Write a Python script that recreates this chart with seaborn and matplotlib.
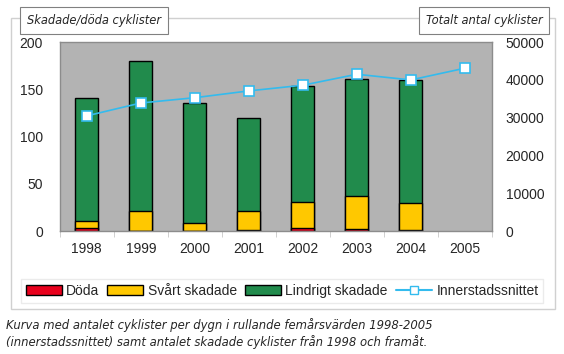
import numpy as np
import pandas as pd
import matplotlib.pyplot as plt
import seaborn as sns
from matplotlib.patches import Patch, Rectangle
from matplotlib.lines import Line2D

years = ['1998', '1999', '2000', '2001', '2002', '2003', '2004', '2005']
bar_years = years[:7]
doda = [3, 0, 0, 1, 3, 2, 1]
svart = [8, 21, 9, 20, 28, 35, 29]
lindrigt = [130, 159, 127, 99, 123, 124, 130]
innerstad = [30500, 33900, 35300, 37100, 38600, 41500, 40000, 43100]

df = pd.DataFrame({'year': bar_years, 'doda': doda, 'svart': svart, 'lindrigt': lindrigt})
df['lvl1'] = df['doda']
df['lvl2'] = df['doda'] + df['svart']
df['lvl3'] = df['lvl2'] + df['lindrigt']
line_df = pd.DataFrame({'year': years, 'antal': innerstad})

c_red = '#E8001C'
c_yel = '#FFC800'
c_grn = '#218B4C'
c_line = '#33BBEE'

sns.set_style('white')
plt.rcParams['font.family'] = ['Liberation Sans', 'DejaVu Sans']

fig = plt.figure(figsize=(5.64, 3.54), dpi=100)
ax = fig.add_axes([0.106, 0.347, 0.766, 0.534])
ax.set_facecolor('#B3B3B3')

for col, c in [('lvl3', c_grn), ('lvl2', c_yel), ('lvl1', c_red)]:
    sns.barplot(data=df, x='year', y=col, order=years, color=c, width=0.43,
                edgecolor='black', linewidth=1, saturation=1, ax=ax)

ax.set_ylim(0, 200)
ax.set_yticks(np.arange(0, 201, 50))
ax.set_xlabel('')
ax.set_ylabel('')
ax.set_xlim(-0.5, 7.5)
ax.set_xticks(range(8))
ax.set_xticklabels(years)
ax.set_xticks(np.arange(-0.5, 8, 1), minor=True)
ax.tick_params(axis='x', which='major', length=0, pad=8, labelsize=10)
ax.tick_params(axis='x', which='minor', length=4, color='#C8C8C8', bottom=True)
ax.tick_params(axis='y', length=0, pad=12, labelsize=10)
for s in ax.spines.values():
    s.set_color('#8C8C8C')
    s.set_linewidth(1)

ax2 = ax.twinx()
sns.pointplot(data=line_df, x='year', y='antal', order=years, color=c_line,
              markers='s', linestyles='-', ax=ax2,
              markerfacecolor='white', markeredgecolor=c_line,
              markersize=7, markeredgewidth=1.2, linewidth=1.2)
ax2.set_ylim(0, 50000)
ax2.set_yticks(np.arange(0, 50001, 10000))
ax2.set_xlim(-0.5, 7.5)
ax2.set_ylabel('')
ax2.set_xlabel('')
ax2.tick_params(axis='y', length=0, pad=10, labelsize=10)
for s in ax2.spines.values():
    s.set_visible(False)

# outer frame
fig.patches.append(Rectangle((0.019, 0.127), 0.965, 0.822, transform=fig.transFigure,
                             fill=False, edgecolor='#D0D0D0', linewidth=1, zorder=0))

box = dict(boxstyle='square,pad=0.6', facecolor='white', edgecolor='#808080', linewidth=0.8)
fig.text(0.048, 0.942, 'Skadade/döda cyklister', fontsize=8.3, style='italic',
         family='DejaVu Sans', va='center', ha='left', bbox=box)
fig.text(0.962, 0.942, 'Totalt antal cyklister', fontsize=8.3, style='italic',
         family='DejaVu Sans', va='center', ha='right', bbox=box)

handles = [Patch(facecolor=c_red, edgecolor='black', label='Döda'),
           Patch(facecolor=c_yel, edgecolor='black', label='Svårt skadade'),
           Patch(facecolor=c_grn, edgecolor='black', label='Lindrigt skadade'),
           Line2D([0], [0], color=c_line, marker='s', markerfacecolor='white',
                  markeredgecolor=c_line, markersize=6, label='Innerstadssnittet')]
leg = fig.legend(handles=handles, loc='center', bbox_to_anchor=(0.5, 0.178), ncol=4,
                 fontsize=10, frameon=True, fancybox=False, handlelength=2.6,
                 handleheight=0.7, handletextpad=0.3, columnspacing=0.6,
                 borderpad=0.35)
leg.get_frame().set_edgecolor('#E6E6E6')
leg.get_frame().set_linewidth(1)

fig.text(0.01, 0.083, 'Kurva med antalet cyklister per dygn i rullande femårsvärden 1998-2005',
         fontsize=8.4, style='italic', family='DejaVu Sans', va='center')
fig.text(0.01, 0.035, '(innerstadssnittet) samt antalet skadade cyklister från 1998 och framåt.',
         fontsize=8.4, style='italic', family='DejaVu Sans', va='center')

fig.savefig('out.png', dpi=100)
